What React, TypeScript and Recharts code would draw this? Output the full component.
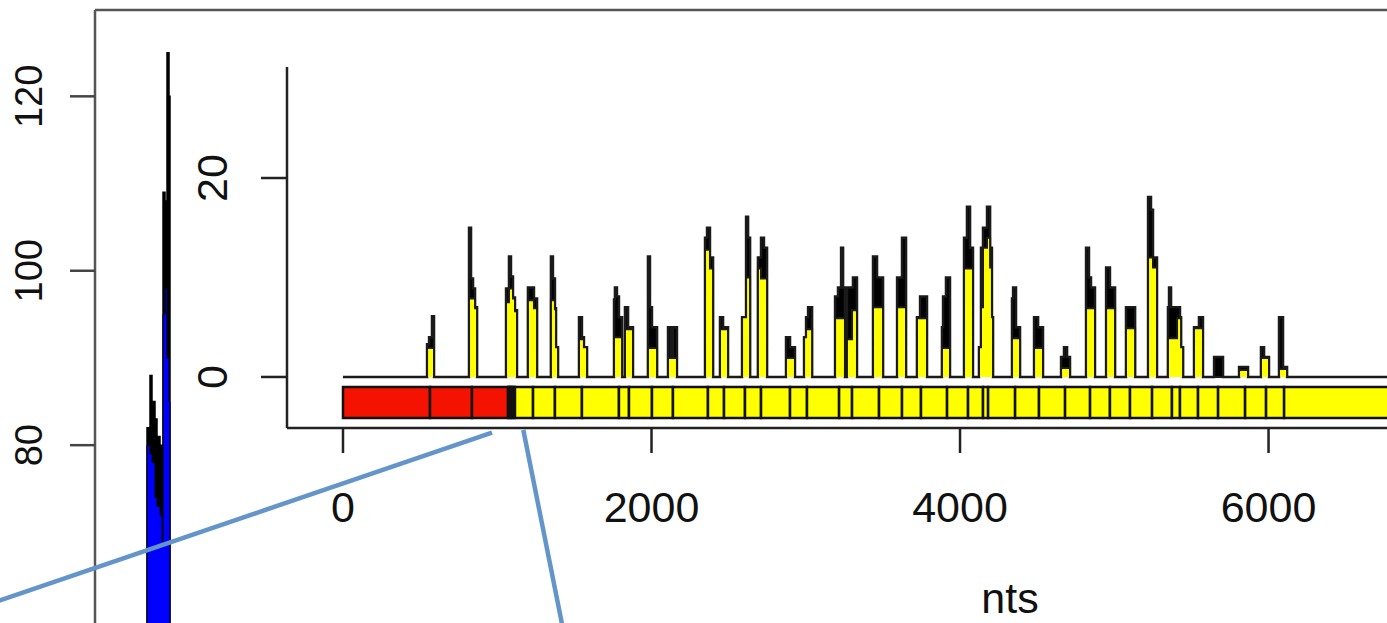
import { ComposedChart, Area, XAxis, YAxis, ReferenceArea, ReferenceLine } from "recharts";

const FONT = '"Liberation Sans", Arial, Helvetica, sans-serif';

// outer plot: coverage spike (position, upper, lower)
const outerPos = [0, 10.4, 11.0, 11.4, 12.0, 12.4, 13.0, 13.4, 13.6, 14.0, 14.4, 14.8, 15.0, 281];
const outerHi = [40, 82, 88, 85, 83, 81, 80, 70, 109, 108, 125, 120, 40, 40];
const outerLo = [40, 80, 79, 78, 74, 73, 72, 69, 95, 98, 90, 85, 40, 40];
const outerTicks = [80, 100, 120];
const outerTop = 129.9;

// inset: coverage along the transcript (nts)
const insetPos = [
  0,
  545, 558, 577, 590,
  817, 830, 843, 856, 869,
  1057, 1076, 1089, 1102, 1115, 1128,
  1199, 1238, 1258,
  1348, 1361, 1374, 1381, 1394,
  1530, 1549, 1562, 1582,
  1757, 1763, 1776, 1789, 1809,
  1828, 1848, 1880,
  1977, 1990, 2003, 2036,
  2107, 2126, 2139, 2165,
  2347, 2360, 2379, 2399,
  2444, 2464, 2496,
  2587, 2613, 2626, 2639,
  2690, 2710, 2729, 2749,
  2872, 2898, 2930,
  2989, 3002, 3015, 3041,
  3190, 3209, 3229, 3242, 3254,
  3267, 3300, 3306, 3332,
  3436, 3462, 3501,
  3592, 3624, 3650,
  3721, 3741, 3786,
  3883, 3890, 3909, 3935,
  4026, 4045, 4065, 4084,
  4123, 4136, 4149, 4175, 4195, 4207, 4214,
  4337, 4344, 4363, 4389,
  4480, 4506, 4538,
  4655, 4674, 4694, 4713,
  4817, 4836, 4849, 4875,
  4947, 4972, 5005,
  5076, 5135,
  5219, 5238, 5251, 5277,
  5348, 5355, 5368, 5407, 5426, 5433, 5446,
  5517, 5549, 5575,
  5647, 5705,
  5809, 5867,
  5951, 5971, 6003,
  6068, 6094, 6120,
  9011,
];
const insetMax = [
  0,
  3.3, 4.0, 6.1, 0,
  15.0, 9.9, 8.9, 7.0, 0,
  8.9, 12.1, 10.1, 8.0, 6.7, 0,
  9.0, 7.9, 0,
  12.1, 9.9, 6.9, 3.0, 0,
  6.0, 4.0, 3.0, 0,
  7.8, 9.0, 8.1, 6.0, 0,
  7.0, 5.0, 0,
  12.1, 7.0, 5.0, 0,
  5.0, 2.0, 5.0, 0,
  14.0, 15.0, 12.0, 0,
  6.0, 5.0, 0,
  6.0, 16.1, 14.0, 0,
  12.0, 14.0, 13.0, 0,
  4.0, 3.0, 0,
  4.0, 6.0, 7.0, 0,
  8.1, 9.0, 13.0, 9.0, 0,
  9.0, 9.0, 10.0, 0,
  12.1, 10.0, 0,
  10.0, 14.0, 0,
  6.0, 8.1, 0,
  5.0, 8.1, 10.0, 0,
  14.0, 17.1, 13.0, 0,
  3.0, 13.0, 15.0, 17.1, 13.0, 6.0, 0,
  7.9, 9.0, 5.0, 0,
  6.0, 5.0, 0,
  2.0, 3.0, 2.0, 0,
  13.0, 10.0, 9.0, 0,
  11.0, 9.0, 0,
  7.0, 0,
  18.1, 16.8, 12.0, 0,
  7.0, 9.0, 7.0, 7.0, 6.0, 3.0, 0,
  5.0, 6.0, 0,
  2.0, 0,
  1.0, 0,
  3.0, 2.0, 0,
  6.0, 1.0, 0,
  0,
];
const insetMean = [
  0,
  2.9, 2.9, 2.9, 0,
  7.9, 7.9, 7.9, 6.9, 0,
  7.5, 8.9, 8.9, 7.9, 6.6, 0,
  7.7, 6.9, 0,
  7.7, 7.7, 6.8, 3.0, 0,
  3.8, 3.8, 3.0, 0,
  4.0, 4.0, 4.0, 4.0, 0,
  4.8, 4.8, 0,
  2.9, 2.9, 2.9, 0,
  1.9, 1.9, 1.9, 0,
  12.8, 12.8, 10.9, 0,
  4.8, 4.8, 0,
  6.0, 10.0, 10.0, 0,
  10.9, 9.9, 9.9, 0,
  1.9, 1.9, 0,
  4.0, 4.8, 4.8, 0,
  5.9, 5.9, 5.9, 5.9, 0,
  3.8, 6.7, 6.7, 0,
  7.0, 7.0, 0,
  7.0, 7.0, 0,
  5.9, 5.9, 0,
  2.9, 2.9, 2.9, 0,
  10.9, 10.9, 10.9, 0,
  3.0, 7.0, 13.0, 14.0, 11.0, 6.0, 0,
  3.9, 3.9, 3.9, 0,
  2.9, 2.9, 0,
  0.9, 0.9, 0.9, 0,
  6.9, 6.9, 6.9, 0,
  6.9, 6.9, 0,
  4.9, 0,
  12.0, 12.0, 11.0, 0,
  3.9, 3.9, 3.9, 5.9, 5.9, 3.0, 0,
  4.9, 4.9, 0,
  0, 0,
  0.7, 0,
  1.9, 1.9, 0,
  0.8, 0.8, 0,
  0,
];
const insetYTicks = [0, 20];
const insetXTicks = [0, 2000, 4000, 6000];

// annotation bar: segment starts (nts), last one runs to the end
const segStarts = [
  0, 564, 836, 1070, 1080, 1090, 1100, 1115, 1232, 1374, 1549, 1789, 1854, 2003,
  2139, 2366, 2470, 2606, 2710, 2898, 3008, 3216, 3300, 3475, 3624, 3747, 3916,
  4052, 4149, 4182, 4357, 4512, 4681, 4843, 4972, 5102, 5245, 5374, 5426, 5543,
  5673, 5848, 5984, 6101,
];
const segEnd = 9011;
const redSegments = 3;

// zoom connector lines, in inset coordinates
const zoomLinks = [
  [{ x: 966, y: -5.6 }, { x: -2289, y: -22.8 }],
  [{ x: 1169, y: -5.33 }, { x: 1440, y: -26.4 }],
];

const outerData = outerPos.map((p, i) => ({ pos: p, hi: outerHi[i], lo: outerLo[i] }));
const insetData = insetPos.map((p, i) => ({ pos: p, max: insetMax[i], mean: insetMean[i] }));

const OuterYTick = (p: any) => (
  <text
    x={p.x - 28}
    y={p.y}
    transform={`rotate(-90, ${p.x - 28}, ${p.y})`}
    textAnchor="middle"
    fontSize={38}
    fontFamily={FONT}
    fill="#111"
  >
    {p.payload.value}
  </text>
);

const InsetYTick = (p: any) => (
  <text
    x={p.x - 34}
    y={p.y}
    transform={`rotate(-90, ${p.x - 34}, ${p.y})`}
    textAnchor="middle"
    fontSize={43}
    fontFamily={FONT}
    fill="#111"
  >
    {p.payload.value}
  </text>
);

const InsetXTick = (p: any) => (
  <text x={p.x} y={p.y + 69} textAnchor="middle" fontSize={43} fontFamily={FONT} fill="#111">
    {p.payload.value}
  </text>
);

export default function App() {
  return (
    <div
      style={{
        position: "absolute",
        left: 0,
        top: 0,
        width: 1387,
        height: 623,
        overflow: "hidden",
        background: "#fff",
      }}
    >
      {/* outer plot */}
      <div style={{ position: "absolute", left: 0, top: 0 }}>
        <ComposedChart width={1500} height={794} data={outerData} margin={{ top: 10, right: 0, bottom: 0, left: 0 }}>
          <XAxis dataKey="pos" type="number" domain={[0, 281]} hide allowDataOverflow />
          <YAxis
            type="number"
            domain={[40, outerTop]}
            ticks={outerTicks}
            width={95}
            tickSize={25}
            tickMargin={0}
            tick={<OuterYTick />}
            tickLine={{ stroke: "#444", strokeWidth: 2.5 }}
            axisLine={{ stroke: "#555", strokeWidth: 2.5 }}
            allowDataOverflow
          />
          <ReferenceLine y={outerTop} stroke="#555" strokeWidth={2.5} ifOverflow="visible" />
          <Area
            dataKey="hi"
            type="stepAfter"
            fill="#000"
            fillOpacity={1}
            stroke="#000"
            strokeWidth={1.5}
            dot={false}
            activeDot={false}
            isAnimationActive={false}
          />
          <Area
            dataKey="lo"
            type="stepAfter"
            fill="#0000ff"
            fillOpacity={1}
            stroke="#000"
            strokeWidth={1}
            dot={false}
            activeDot={false}
            isAnimationActive={false}
          />
        </ComposedChart>
      </div>

      {/* inset plot */}
      <div style={{ position: "absolute", left: 0, top: 0 }}>
        <ComposedChart width={1733} height={628} data={insetData} margin={{ top: 67, right: 0, bottom: 0, left: 137 }}>
          <XAxis
            dataKey="pos"
            type="number"
            domain={[-363, 9011]}
            ticks={insetXTicks}
            height={200}
            tickSize={25}
            tickMargin={0}
            tick={<InsetXTick />}
            tickLine={{ stroke: "#222", strokeWidth: 2.5 }}
            axisLine={{ stroke: "#222", strokeWidth: 2.5 }}
            allowDataOverflow
            label={{ value: "nts", position: "insideBottom", offset: 15, fontSize: 43, fontFamily: FONT, fill: "#111" }}
          />
          <YAxis
            type="number"
            domain={[-5.13, 31.16]}
            ticks={insetYTicks}
            width={150}
            tickSize={26}
            tickMargin={0}
            tick={<InsetYTick />}
            tickLine={{ stroke: "#222", strokeWidth: 2.5 }}
            axisLine={{ stroke: "#222", strokeWidth: 2.5 }}
            allowDataOverflow
          />
          {segStarts.map((s, i) => (
            <ReferenceArea
              key={s}
              x1={s}
              x2={i + 1 < segStarts.length ? segStarts[i + 1] : segEnd}
              y1={-4.12}
              y2={-1.0}
              fill={i < redSegments ? "#f41200" : "#ffff00"}
              fillOpacity={1}
              stroke="#111"
              strokeWidth={2.5}
              ifOverflow="visible"
            />
          ))}
          <Area
            dataKey="max"
            type="stepAfter"
            baseValue={0}
            fill="#000"
            fillOpacity={1}
            stroke="#1a1a1a"
            strokeWidth={2.5}
            dot={false}
            activeDot={false}
            isAnimationActive={false}
          />
          <Area
            dataKey="mean"
            type="stepAfter"
            baseValue={0}
            fill="#ffff00"
            fillOpacity={1}
            stroke="#1a1a1a"
            strokeWidth={2}
            dot={false}
            activeDot={false}
            isAnimationActive={false}
          />
          {zoomLinks.map((seg, i) => (
            <ReferenceLine key={i} segment={seg} stroke="#6395c9" strokeWidth={4.5} ifOverflow="visible" />
          ))}
        </ComposedChart>
      </div>
    </div>
  );
}
